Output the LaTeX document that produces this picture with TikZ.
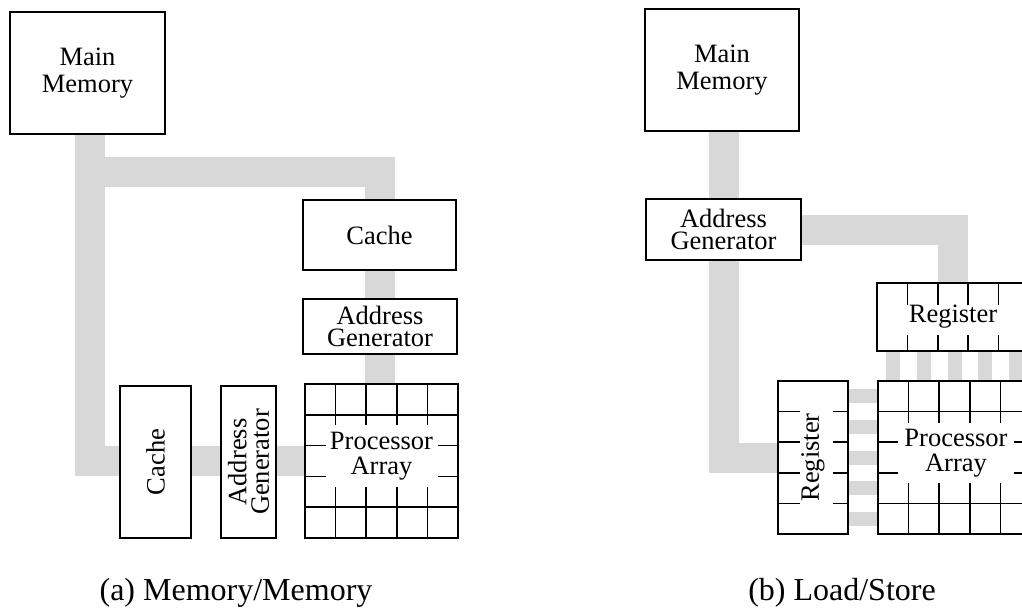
\documentclass[tikz,border=0pt]{standalone}
\usepackage{fontspec}
\setmainfont{Liberation Serif}
\usetikzlibrary{calc,backgrounds}

\definecolor{busgray}{RGB}{216,216,216}
\newcommand\boxfont{\fontsize{26.5}{27}\selectfont\lineskiplimit=-50pt\relax}
\newcommand\agfont{\fontsize{26.5}{22.5}\selectfont\lineskiplimit=-50pt\relax}
\newcommand\pafont{\fontsize{26.5}{24.5}\selectfont\lineskiplimit=-50pt\relax}

% inner grid of a 5x5 processor array node
\newcommand\PAgrid[1]{%
  \foreach \k in {1,...,4}{%
    \draw[gridline] ($(#1.north west)!\k/5!(#1.north east)$) -- ($(#1.south west)!\k/5!(#1.south east)$);
    \draw[gridline] ($(#1.north west)!\k/5!(#1.south west)$) -- ($(#1.north east)!\k/5!(#1.south east)$);
  }}

\begin{document}
\begin{tikzpicture}[x=1pt,y=-1pt,
  box/.style={draw=black, line width=1.8pt, fill=white, inner sep=0pt, outer sep=0pt,
              align=center, font=\boxfont},
  bus/.style={draw=busgray, line width=30pt},
  stub/.style={draw=busgray, line width=14pt},
  gridline/.style={line width=1.5pt},
  palabel/.style={fill=white, inner sep=0pt, minimum width=112pt, minimum height=62pt,
                  align=center, font=\pafont},
  vtext/.style={rotate=90, inner sep=0pt, align=center},
  caption/.style={inner sep=0pt, font=\fontsize{32}{36}\selectfont}
]
\useasboundingbox (0,0) rectangle (1022,611);

% ---------- (a) memory/memory ----------
\node[box, minimum width=155pt, minimum height=122pt] (mmA) at (87.5,73) {Main\\Memory};
\node[box, minimum width=153pt, minimum height=70pt] (cacheT) at (379.5,235) {Cache};
\node[box, font=\agfont, minimum width=154pt, minimum height=55pt] (agT) at (380,326.5) {Address\\Generator};
\node[box, minimum width=153pt, minimum height=154pt] (paA) at (381.5,461) {};
\node[box, minimum width=71pt, minimum height=152pt] (cacheL) at (155.5,462) {};
\node[vtext, font=\boxfont] (cacheLtext) at (cacheL) {Cache};
\node[box, minimum width=55pt, minimum height=152pt] (agL) at (248.5,462) {};
\node[vtext, font=\agfont] (agLtext) at (agL) {Address\\Generator};

\PAgrid{paA}
\node[palabel] (paAtext) at ($(paA.center)+(0,-5)$) {Processor\\Array};

\coordinate (tapA) at (89.5,172);
\begin{scope}[on background layer]
  \draw[bus] ([xshift=2pt]mmA.south) |- (paA.west);
  \draw[bus] (tapA) -| (paA.north -| cacheT.north);
\end{scope}

% ---------- (b) load/store ----------
\node[box, minimum width=154pt, minimum height=122pt] (mmB) at (722,70) {Main\\Memory};
\node[box, font=\agfont, minimum width=155pt, minimum height=61pt] (agB) at (723.5,229.5) {Address\\Generator};
\node[box, minimum width=152pt, minimum height=68pt] (regT) at (953,317) {};
\node[box, minimum width=153pt, minimum height=153pt] (paB) at (954.5,457.5) {};
\node[box, minimum width=70pt, minimum height=153pt] (regL) at (813,457.5) {};

% register cell ticks
\foreach \k in {1,...,4}{
  \draw[gridline] ($(regT.north west)!\k/5!(regT.north east)$) -- ++(0,22);
  \draw[gridline] ($(regT.south west)!\k/5!(regT.south east)$) -- ++(0,-16);
  \draw[gridline] ($(regL.north west)!\k/5!(regL.south west)$) -- ++(22,0);
  \draw[gridline] ($(regL.north east)!\k/5!(regL.south east)$) -- ++(-15,0);
}
\node[inner sep=0pt, font=\boxfont] (regTtext) at (regT) {Register};
\node[vtext, font=\boxfont] (regLtext) at (regL) {Register};

\PAgrid{paB}
\node[palabel, minimum width=116pt, minimum height=60pt] (paBtext) at ($(paB.center)+(1.5,-4.5)$) {Processor\\Array};

\foreach \k in {0,...,4}{
  \path ($(paB.north west)!{(\k+0.5)/5}!(paB.north east)$) coordinate (s\k);
  \path ($(paB.north west)!{(\k+0.5)/5}!(paB.south west)$) coordinate (t\k);
}
\begin{scope}[on background layer]
  \draw[bus] (mmB.south -| agB.north) -- (agB.north);
  \draw[bus] (agB.south) |- (regL.west);
  \draw[bus] (agB.east) -| (regT.north);
  \foreach \k in {0,...,4}{
    \draw[stub] (s\k) -- (s\k |- regT.south);
    \draw[stub] (t\k) -- (t\k -| regL.east);
  }
\end{scope}

% ---------- captions ----------
\node[caption, anchor=base] (capA) at (236,600) {(a) Memory/Memory};
\node[caption, anchor=base] (capB) at (842,600) {(b) Load/Store};
\end{tikzpicture}
\end{document}
